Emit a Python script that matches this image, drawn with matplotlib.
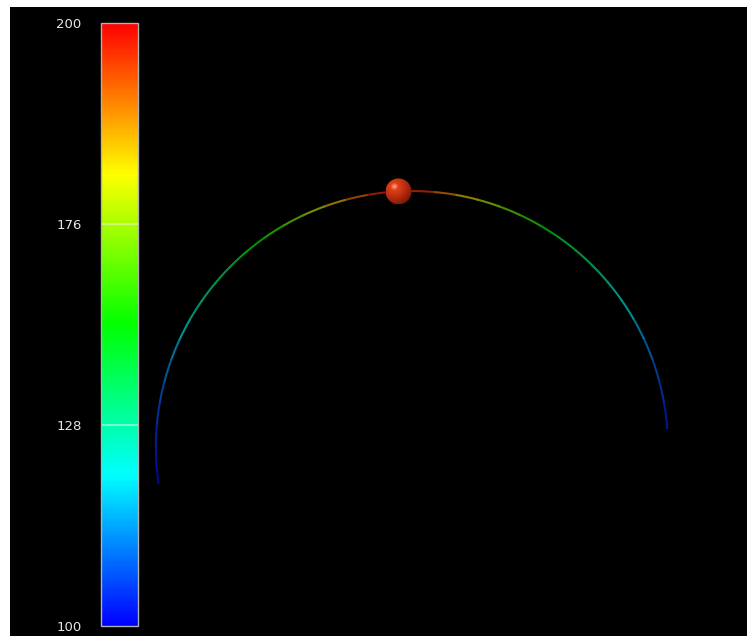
import matplotlib
matplotlib.use("Agg")
import matplotlib.pyplot as plt
import numpy as np
from matplotlib import colors, cm
from matplotlib.patches import Arc, Circle

# colour scale (the bar is split evenly between these tick values)
cbar_ticks = [100, 128, 176, 200]

# trajectory, sampled along the arc (angle in degrees, value on the colour scale)
arc_angle = [4, 10, 15, 20, 25, 30, 35, 40, 45, 50, 55, 60, 65, 70, 75, 80, 85, 90,
             95, 100, 105, 110, 115, 120, 125, 130, 135, 140, 145, 150, 155, 160,
             165, 170, 175, 180, 185, 188]
arc_value = [102.7, 105, 107.5, 110, 114, 118, 123, 127, 132, 139, 146, 153, 163, 173,
             181, 187, 193, 198, 199, 194, 189, 182, 175, 165, 155, 148, 140, 134,
             128, 124, 119, 115, 111, 108, 106, 103.5, 102, 101.7]
arc_radius = 1.0

# moving ball
ball_angle = 93
ball_value = 200

cmap = colors.LinearSegmentedColormap.from_list(
    "bcgyr", ["#0000ff", "#00ffff", "#00ff00", "#ffff00", "#ff0000"])
fracs = np.linspace(0, 1, len(cbar_ticks))
norm = colors.FuncNorm((lambda v: np.interp(v, cbar_ticks, fracs),
                        lambda f: np.interp(f, fracs, cbar_ticks)),
                       vmin=cbar_ticks[0], vmax=cbar_ticks[-1])

fig = plt.figure(figsize=(7.47, 6.36), dpi=100, facecolor="white")

# main black view
ax = fig.add_axes([10 / 747, 0, 737 / 747, 629 / 636])
ax.set_facecolor("black")
ax.set_xticks([])
ax.set_yticks([])
for s in ax.spines.values():
    s.set_visible(False)

# arc drawn piece by piece, darker than the bar colours
for i in range(len(arc_angle) - 1):
    v = 0.5 * (arc_value[i] + arc_value[i + 1])
    c = np.array(cmap(norm(v))[:3]) * 0.56
    ax.add_patch(Arc((0, 0), 2 * arc_radius, 2 * arc_radius,
                     theta1=arc_angle[i], theta2=arc_angle[i + 1] + 0.3,
                     color=c, lw=1.5))

# shaded sphere
bx = arc_radius * np.cos(np.radians(ball_angle))
by = arc_radius * np.sin(np.radians(ball_angle))
br = 13 / 256
n = 120
gx, gy = np.meshgrid(np.linspace(-1, 1, n), np.linspace(1, -1, n))
d = np.sqrt((gx + 0.35) ** 2 + (gy - 0.35) ** 2)
dark = np.array([0.5, 0.09, 0.02])
mid = np.array([0.93, 0.27, 0.1])
hi = np.array([1.0, 0.66, 0.55])
t = np.clip(d / 1.45, 0, 1)[..., None] ** 1.3
img = mid * (1 - t) + dark * t
h = np.clip(1 - d / 0.3, 0, 1)[..., None]
img = img * (1 - h) + hi * h
img = np.clip(img, 0, 1)
im = ax.imshow(img, extent=[bx - br, bx + br, by - br, by + br], zorder=5,
               interpolation="bilinear")
im.set_clip_path(Circle((bx, by), br, transform=ax.transData))
ax.set_xlim(-1.570, 1.309)
ax.set_ylim(-0.738, 1.719)
ax.set_aspect("equal")

# colour bar
cax = fig.add_axes([101 / 747, 10 / 636, 37 / 747, 603 / 636])
cb = fig.colorbar(cm.ScalarMappable(norm=norm, cmap=cmap), cax=cax)
cb.set_ticks(cbar_ticks)
cb.set_ticklabels([str(t) for t in cbar_ticks])
cax.yaxis.set_ticks_position("left")
cax.tick_params(length=0, pad=14, labelsize=9.5, labelcolor="#e6e6e6")
cb.outline.set_edgecolor("#b0b0b0")
cb.outline.set_linewidth(1.0)
for t in cbar_ticks[1:-1]:
    cax.axhline(t, color="white", alpha=0.55, lw=1.2)

plt.savefig("out.png", dpi=100, facecolor=fig.get_facecolor())
